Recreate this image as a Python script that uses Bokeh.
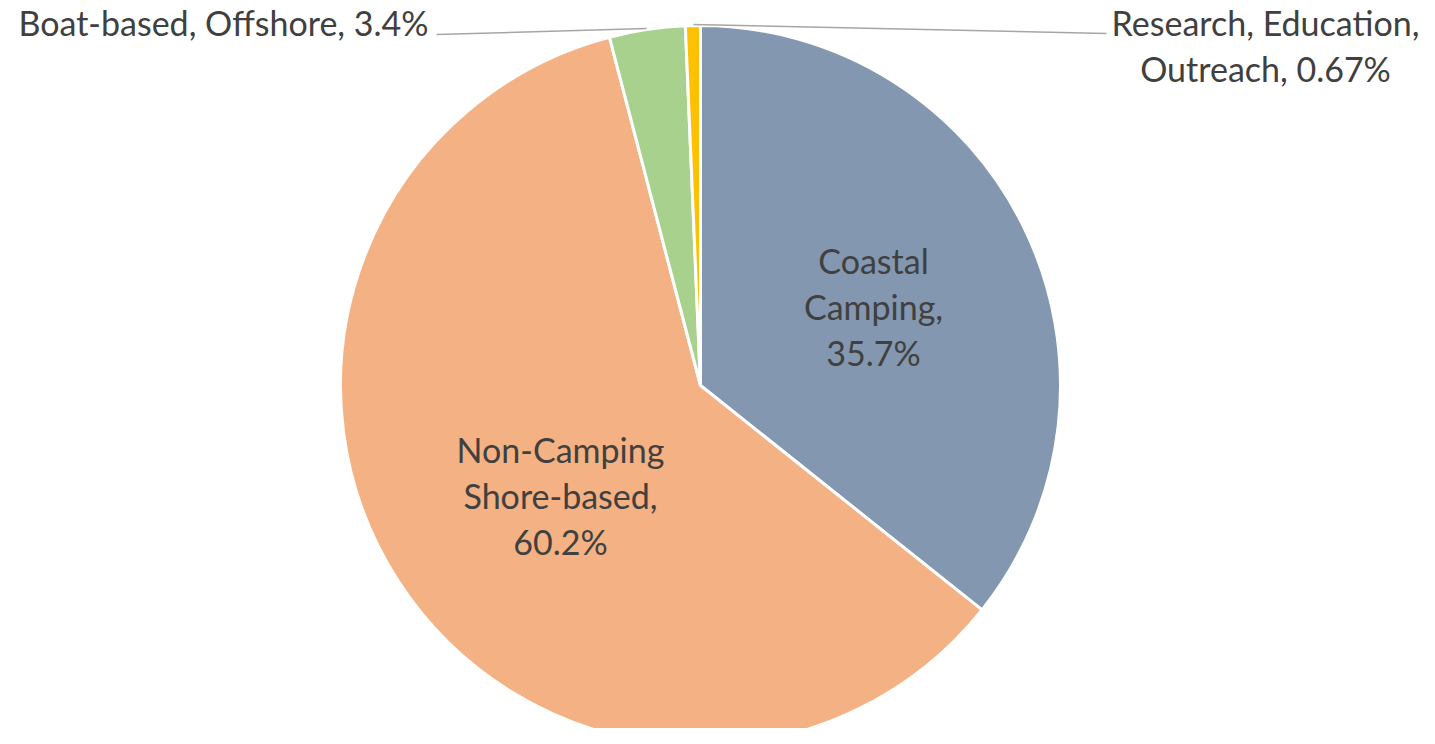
import math
from bokeh.plotting import figure
from bokeh.models import Range1d, ColumnDataSource
from bokeh.core.properties import value
from bokeh.embed import file_html
from bokeh.resources import INLINE

categories = ["Coastal Camping", "Non-Camping Shore-based", "Boat-based, Offshore", "Research, Education, Outreach"]
shares = [35.7, 60.2, 3.4, 0.67]
pct_labels = ["35.7%", "60.2%", "3.4%", "0.67%"]
colors = ["#8497B0", "#F4B183", "#A9D18E", "#FFC000"]

W, H = 1419, 728
p = figure(width=W, height=H, output_backend="svg", toolbar_location=None,
           x_range=Range1d(0, W), y_range=Range1d(-H, 0),
           min_border=0)
p.axis.visible = False
p.grid.visible = False
p.outline_line_color = None

cx, cy, R = 700, -385, 360
total = sum(shares)
starts, ends = [], []
acc = 0.0
for s in shares:
    starts.append(math.pi / 2 - acc / total * 2 * math.pi)
    acc += s
    ends.append(math.pi / 2 - acc / total * 2 * math.pi)

src = ColumnDataSource(dict(x=[cx] * 4, y=[cy] * 4, start=starts, end=ends, color=colors, cat=categories))
p.wedge(x="x", y="y", radius=R, start_angle="start", end_angle="end", direction="clock",
        fill_color="color", line_color="white", line_width=3, source=src)

font = value("Lato")
tc = "#404040"
fs = "34px"
lh = 1.13

# inside labels
inside_text = ["Coastal\nCamping,\n" + pct_labels[0], "Non-Camping\nShore-based,\n" + pct_labels[1]]
p.text(x=[873, 560], y=[-306, -495], text=inside_text, text_font=font, text_font_size=fs,
       text_color=tc, text_align="center", text_baseline="middle", text_line_height=lh)

# outside labels with leader lines
p.line(x=[436, 646], y=[-34, -28], line_color="#A6A6A6", line_width=1.5)
p.line(x=[693, 1106], y=[-24, -33], line_color="#A6A6A6", line_width=1.5)
p.text(x=[428], y=[-22], text=[categories[2] + ", " + pct_labels[2]], text_font=font, text_font_size=fs,
       text_color=tc, text_align="right", text_baseline="middle")
p.text(x=[1265], y=[-45], text=["Research, Education,\nOutreach, " + pct_labels[3]], text_font=font,
       text_font_size=fs, text_color=tc, text_align="center", text_baseline="middle", text_line_height=lh)

open("out.html", "w").write(file_html(p, INLINE))
